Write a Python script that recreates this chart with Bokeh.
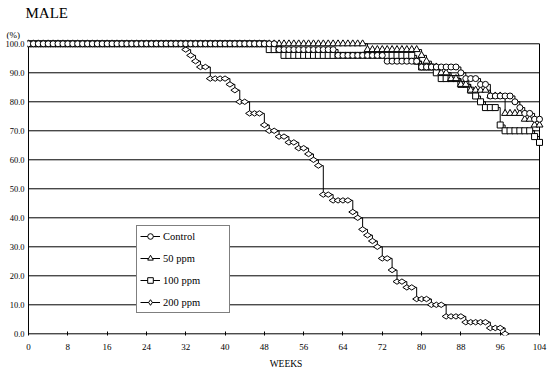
import numpy as np
from bokeh.plotting import figure
from bokeh.models import (Range1d, Legend, LegendItem, FixedTicker, Title,
                          PrintfTickFormatter)
from bokeh.embed import file_html
from bokeh.resources import INLINE

# ---------------- data (survival %) -------------
weeks = list(range(0, 105))

control = [
    100, 100, 100, 100, 100, 100, 100, 100, 100, 100,   # 0-9
    100, 100, 100, 100, 100, 100, 100, 100, 100, 100,   # 10-19
    100, 100, 100, 100, 100, 100, 100, 100, 100, 100,   # 20-29
    100, 100, 100, 100, 100, 100, 100, 100, 100, 100,   # 30-39
    100, 100, 100, 100, 100, 100, 100, 100, 100, 100,   # 40-49
    100, 98, 98, 98, 98, 98, 98, 98, 98, 98,            # 50-59
    98, 98, 98, 96, 96, 96, 96, 96, 96, 96,             # 60-69
    96, 96, 96, 94, 94, 94, 94, 94, 94, 94,             # 70-79
    92, 92, 92, 92, 92, 92, 92, 92, 90, 88,             # 80-89
    88, 88, 86, 86, 82, 82, 82, 82, 82, 80,             # 90-99
    78, 76, 76, 74, 74,                                 # 100-104
]

ppm50 = [
    100, 100, 100, 100, 100, 100, 100, 100, 100, 100,
    100, 100, 100, 100, 100, 100, 100, 100, 100, 100,
    100, 100, 100, 100, 100, 100, 100, 100, 100, 100,
    100, 100, 100, 100, 100, 100, 100, 100, 100, 100,
    100, 100, 100, 100, 100, 100, 100, 100, 100, 100,
    100, 100, 100, 100, 100, 100, 100, 100, 100, 100,
    100, 100, 100, 100, 100, 100, 100, 100, 100, 98,
    98, 98, 98, 98, 98, 98, 98, 98, 98, 98,
    96, 94, 92, 92, 90, 90, 88, 88, 86, 86,
    84, 84, 84, 84, 82, 82, 82, 76, 76, 76,
    76, 74, 74, 72, 72,
]

ppm100 = [
    100, 100, 100, 100, 100, 100, 100, 100, 100, 100,
    100, 100, 100, 100, 100, 100, 100, 100, 100, 100,
    100, 100, 100, 100, 100, 100, 100, 100, 100, 100,
    100, 100, 100, 100, 100, 100, 100, 100, 100, 100,
    100, 100, 100, 100, 100, 100, 100, 100, 100, 98,
    98, 98, 96, 96, 96, 96, 96, 96, 96, 96,
    96, 96, 96, 96, 96, 96, 96, 96, 96, 96,
    96, 96, 96, 96, 96, 96, 96, 96, 96, 94,
    92, 92, 92, 90, 88, 88, 88, 88, 86, 86,
    84, 82, 80, 78, 78, 78, 72, 70, 70, 70,
    70, 70, 70, 68, 66,
]

weeks200 = list(range(0, 98))
ppm200 = [
    100, 100, 100, 100, 100, 100, 100, 100, 100, 100,
    100, 100, 100, 100, 100, 100, 100, 100, 100, 100,
    100, 100, 100, 100, 100, 100, 100, 100, 100, 100,
    100, 100, 98, 96, 94, 92, 92, 88, 88, 88,
    88, 86, 84, 80, 80, 76, 76, 76, 72, 70,
    70, 68, 68, 66, 66, 64, 64, 62, 60, 58,
    48, 48, 46, 46, 46, 46, 42, 40, 36, 34,
    32, 30, 26, 26, 22, 18, 18, 16, 16, 12,
    12, 12, 10, 10, 10, 6, 6, 6, 6, 4,
    4, 4, 4, 4, 2, 2, 2, 0,
]

series_names = ["Control", "50 ppm", "100 ppm", "200 ppm"]
x_ticks = [0, 8, 16, 24, 32, 40, 48, 56, 64, 72, 80, 88, 96, 104]
y_ticks = [0, 10, 20, 30, 40, 50, 60, 70, 80, 90, 100]

FONT = "Liberation Serif"

# ---------------- figure ---------------------------------------------------------
p = figure(width=550, height=371,
           x_range=Range1d(-0.2035, 105.0176),
           y_range=Range1d(-0.584, 101.478),
           output_backend="svg", toolbar_location=None,
           min_border_left=27, min_border_right=6,
           min_border_top=38, min_border_bottom=36)
p.outline_line_color = None
p.xgrid.visible = False
p.ygrid.visible = False
p.background_fill_color = "white"
p.border_fill_color = "white"

# titles: "MALE" on top, "(%)" just above the frame
p.title.text = "MALE"
p.title.align = "left"
p.title.vertical_align = "top"
p.title.offset = -2
p.title.standoff = 9
p.title.text_font = FONT
p.title.text_font_size = "15px"
p.title.text_font_style = "normal"
p.title.text_line_height = 1.0
p.title.text_color = "black"
p.add_layout(Title(text="(%)", align="left", offset=-21, standoff=0,
                   text_font=FONT, text_font_size="9px", text_line_height=1.0,
                   text_font_style="normal", text_color="black"), "above")

xa = p.xaxis[0]
xa.ticker = FixedTicker(ticks=x_ticks)
xa.axis_line_color = None
xa.major_tick_line_color = "black"
xa.major_tick_in = 4
xa.major_tick_out = 0
xa.minor_tick_line_color = None
xa.major_label_text_font = FONT
xa.major_label_text_font_size = "9px"
xa.major_label_text_color = "black"
xa.major_label_standoff = 8
xa.axis_label = "WEEKS"
xa.axis_label_text_font = FONT
xa.axis_label_text_font_size = "9.5px"
xa.axis_label_text_font_style = "normal"
xa.axis_label_text_color = "black"
xa.axis_label_standoff = 6

ya = p.yaxis[0]
ya.ticker = FixedTicker(ticks=y_ticks)
ya.formatter = PrintfTickFormatter(format="%.1f")
ya.axis_line_color = None
ya.major_tick_line_color = None
ya.minor_tick_line_color = None
ya.major_tick_in = 0
ya.major_tick_out = 0
ya.axis_label_standoff = 0
ya.major_label_standoff = 3
ya.major_label_text_font = FONT
ya.major_label_text_font_size = "8.5px"
ya.major_label_text_color = "black"

# frame lines and horizontal gridlines
n = len(y_ticks)
p.segment(x0=[x_ticks[0]] * n, x1=[x_ticks[-1]] * n, y0=y_ticks, y1=y_ticks,
          line_color="black", line_width=1)
p.segment(x0=[x_ticks[0], x_ticks[-1]], x1=[x_ticks[0], x_ticks[-1]],
          y0=[y_ticks[0], y_ticks[0]], y1=[y_ticks[-1], y_ticks[-1]],
          line_color="black", line_width=1)

# ---------------- series ---------------------------------------------------------
data = [
    (weeks, control, "circle", 6, 0),
    (weeks, ppm50, "triangle", 7, 0),
    (weeks, ppm100, "square", 6, 0),
    (weeks200, ppm200, "diamond", 8, np.pi / 2),
]
lines = []
for xs, ys, mk, sz, ang in data:
    lines.append(p.step(xs, ys, mode="after", line_color="black", line_width=1))
marks = [None] * 4
for i in [3, 2, 1, 0]:
    xs, ys, mk, sz, ang = data[i]
    marks[i] = p.scatter(xs, ys, marker=mk, size=sz, angle=ang,
                         line_color="black", line_width=1, fill_color="white")

items = [LegendItem(label=series_names[i], renderers=[lines[i], marks[i]])
         for i in range(4)]
legend = Legend(items=items, location=(109, 22))
legend.border_line_color = "black"
legend.border_line_width = 1
legend.background_fill_color = "white"
legend.background_fill_alpha = 1.0
legend.padding = 3
legend.margin = 0
legend.spacing = 8
legend.glyph_height = 14
legend.label_height = 14
legend.glyph_width = 20
legend.label_standoff = 3
legend.label_width = 63
legend.label_text_font = FONT
legend.label_text_font_size = "10.5px"
legend.label_text_color = "black"
p.add_layout(legend, "center")

open("out.html", "w").write(file_html(p, INLINE))
